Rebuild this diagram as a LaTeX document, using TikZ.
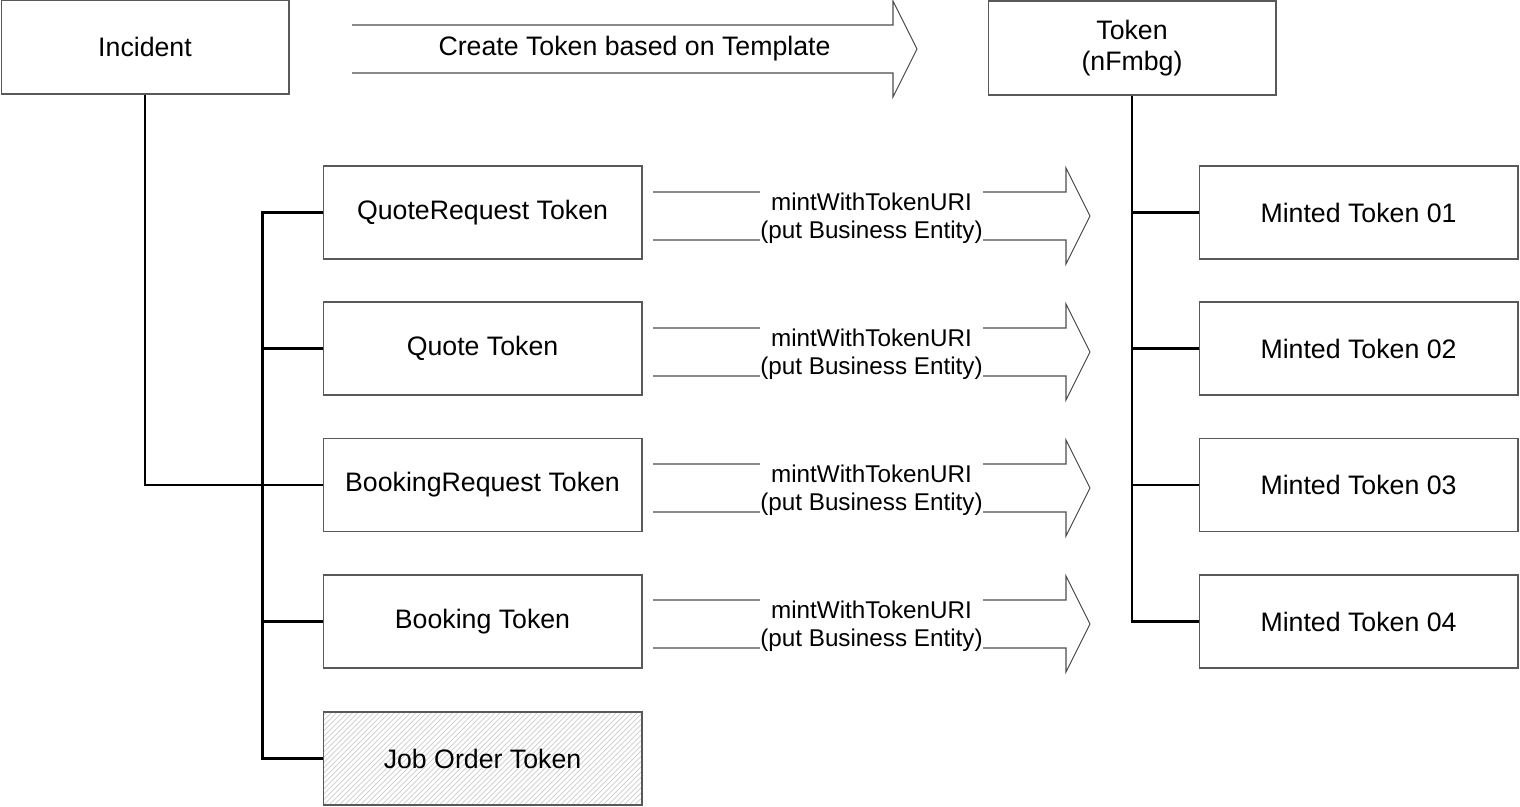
\documentclass[tikz,border=0pt]{standalone}
\usepackage{fontspec}
\setmainfont{Liberation Sans}
\usetikzlibrary{patterns}
\begin{document}
\begin{tikzpicture}
		[x=0.02cm, y=-0.02cm,
		every node/.style={font=\fontsize{15.2}{16}\selectfont},
		tokenbox/.style={draw=black!65, line width=0.6pt, minimum width=5.76cm,
			minimum height=1.88cm, align=center, inner sep=0pt},
		entitybox/.style={tokenbox, minimum width=6.38cm, minimum height=1.86cm},
		hatched/.style={pattern=north east lines, pattern color=black!20},
		link/.style={line width=1.2pt},
		blockarrow/.style={draw=black!70, line width=0.6pt},
		arrowlabel/.style={fill=white, align=center, inner xsep=0pt, inner ysep=2pt},
		mintlabel/.style={arrowlabel, font=\fontsize{13.8}{16}\selectfont},
		]
		\useasboundingbox (0,0) rectangle (1520,807);
		% top row
		\node[tokenbox] (incident) at (145,47) {Incident};
		\node[tokenbox] (token) at (1132,48) {Token\\[2pt](nFmbg)};
		\draw[blockarrow] (352,25) -- (893,25) -- (893,1) -- (917,49)
			-- (893,97) -- (893,73) -- (352,73);
		\node[arrowlabel] (create label) at (634.5,49) {Create Token based on Template};
		% business entity tokens
		\node[entitybox] (quote request) at (482.5,212.5) {QuoteRequest Token};
		\node[entitybox] (quote) at (482.5,348.5) {Quote Token};
		\node[entitybox] (booking request) at (482.5,485) {BookingRequest Token};
		\node[entitybox] (booking) at (482.5,621.5) {Booking Token};
		\node[entitybox, hatched] (job order) at (482.5,758.5) {Job Order Token};
		% minted tokens
		\node[entitybox] (minted 1) at (1358.5,212.5) {Minted Token 01};
		\node[entitybox] (minted 2) at (1358.5,348.5) {Minted Token 02};
		\node[entitybox] (minted 3) at (1358.5,485) {Minted Token 03};
		\node[entitybox] (minted 4) at (1358.5,621.5) {Minted Token 04};
		% mint arrows
		\foreach \y/\n in {216/1,352/2,488/3,624/4} {
			\draw[blockarrow] (653,\y-24) -- (1066,\y-24) -- (1066,\y-48) -- (1090,\y)
				-- (1066,\y+48) -- (1066,\y+24) -- (653,\y+24);
			\node[mintlabel] (mint label \n) at (871.5,\y+2) {mintWithTokenURI\\(put Business Entity)};
		}
		% connectors
		\draw[link] (incident.south) |- (booking request.west);
		\draw[link] (quote request.west) -- ++(-60,0) coordinate (trunk top) |- (job order.west);
		\draw[link] (quote.west) -- ++(-60,0);
		\draw[link] (booking.west) -- ++(-60,0);
		\draw[link] (token.south) |- (minted 4.west);
		\draw[link] (minted 1.west) -- ++(-67,0);
		\draw[link] (minted 2.west) -- ++(-67,0);
		\draw[link] (minted 3.west) -- ++(-67,0);
	\end{tikzpicture}
\end{document}
